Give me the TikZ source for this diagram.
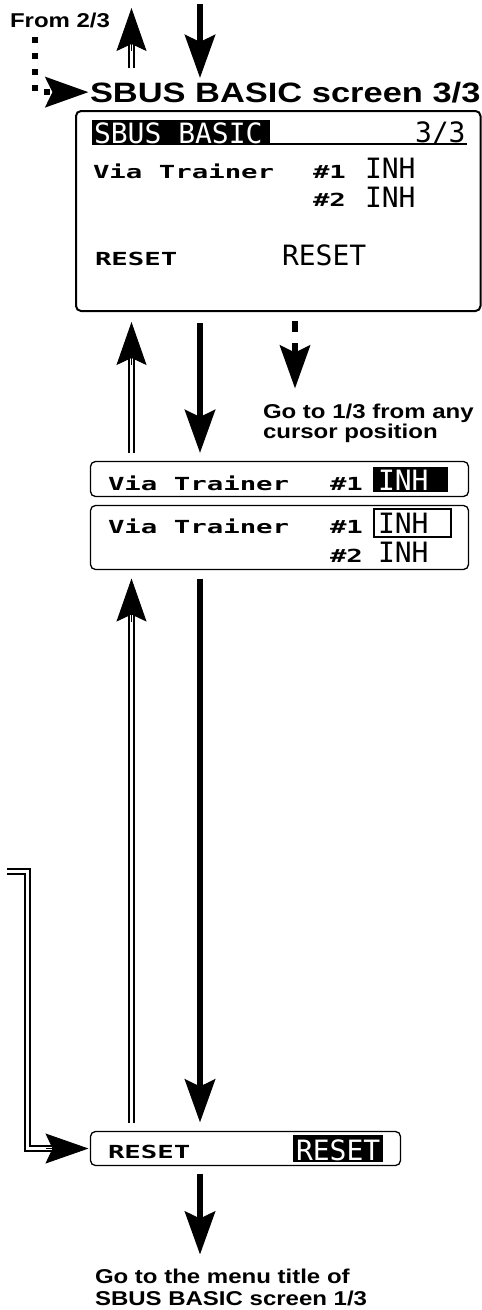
\documentclass[tikz,border=0pt]{standalone}
\usepackage{fontspec}
\usepackage{graphicx}
\setmainfont{Liberation Sans}
\newfontfamily\lcdfont{DejaVu Sans Mono}
\usetikzlibrary{arrows.meta,calc}
\newcommand\lcds[1]{{\lcdfont\bfseries\fontsize{18}{18}\selectfont\scalebox{1.52}[1]{#1}}}
\newcommand\lcdl[1]{{\lcdfont\fontsize{28}{28}\selectfont #1}}
\newcommand\lbl[3]{{\bfseries\fontsize{#1}{#1}\selectfont\scalebox{#2}[1]{#3}}}
\newcommand\dblarrow[2]{\draw[dblline, shorten >=32pt] (#1) -- (#2); \draw[headonly] ($(#2)!43pt!(#1)$) -- (#2);}
\begin{document}
\begin{tikzpicture}[x=1pt,y=-1pt,
  >={Stealth[length=43pt,width=30pt,inset=7pt]},
  txt/.style={inner sep=0pt, outer sep=0pt, anchor=base west},
  scr/.style={draw, line width=2pt, rounded corners=5pt, inner sep=0pt, outer sep=0pt, anchor=north west},
  rowbox/.style={draw, line width=1.3pt, rounded corners=5pt, inner sep=0pt, outer sep=0pt, anchor=north west},
  hl/.style={fill=black, inner sep=0pt, outer sep=0pt, anchor=north west},
  bigarr/.style={->, line width=6.5pt},
  dblline/.style={double, line width=1.6pt, double distance=3pt},
  headonly/.style={->, line width=1pt},
  dashedarr/.style={->, line width=6pt, dash pattern=on 11pt off 11pt},
  dotarr/.style={->, line width=6pt, dash pattern=on 6pt off 10pt}]
\useasboundingbox (0,0) rectangle (482,1310);
% columns
\coordinate (colA) at (131.5,0);
\coordinate (colB) at (200,0);
\coordinate (colC) at (295,0);
% top labels
\node[txt] (from) at (10,27) {\lbl{20}{1.2}{From 2/3}};
\node[txt] (title) at (90,102) {\lbl{28}{1.23}{SBUS BASIC screen 3/3}};
% main screen
\node[scr, minimum width=404.5pt, minimum height=200pt] (main) at (76,111) {};
\node[hl, minimum width=178pt, minimum height=25pt] (bar) at (92,120) {};
\node[txt, text=white] (bartxt) at (94,143) {\lcdl{SBUS BASIC}};
\draw[line width=2pt] (bar.south east) ++(0,-1) -- ++(197,0) coordinate (ulend);
\node[txt] (pg) at (415,142) {\lcdl{3/3}};
\node[txt] (m1) at (93,178) {\lcds{Via Trainer}};
\node[txt] (m2) at (313,178) {\lcds{\#1}};
\node[txt] (m3) at (365,178) {\lcdl{INH}};
\node[txt] (m4) at (313,206) {\lcds{\#2}};
\node[txt] (m5) at (365,207) {\lcdl{INH}};
\node[txt] (m6) at (95,265) {\lcds{RESET}};
\node[txt] (m7) at (282,265) {\lcdl{RESET}};
% row 1
\node[rowbox, minimum width=378pt, minimum height=35pt] (row1) at (90.5,461.5) {};
\node[txt] (r1a) at (108,490) {\lcds{Via Trainer}};
\node[txt] (r1b) at (330,490) {\lcds{\#1}};
\node[hl, minimum width=75pt, minimum height=25pt] (r1hl) at (373,467) {};
\node[txt, text=white] (r1c) at (378,490) {\lcdl{INH}};
% row 2
\node[rowbox, minimum width=378pt, minimum height=64pt] (row2) at (90.5,505.5) {};
\node[txt] (r2a) at (108,533) {\lcds{Via Trainer}};
\node[txt] (r2b) at (330,533) {\lcds{\#1}};
\node[draw, line width=2pt, inner sep=0pt, outer sep=0pt, anchor=north west, minimum width=77pt, minimum height=28pt] (r2box) at (374,509) {};
\node[txt] (r2c) at (378,533) {\lcdl{INH}};
\node[txt] (r2d) at (330,562) {\lcds{\#2}};
\node[txt] (r2e) at (378,562) {\lcdl{INH}};
% reset row
\node[rowbox, minimum width=310pt, minimum height=34pt] (reset) at (90.5,1131.5) {};
\node[txt] (rsa) at (108,1158) {\lcds{RESET}};
\node[hl, minimum width=90pt, minimum height=27pt] (rshl) at (293,1135) {};
\node[txt, text=white] (rsb) at (296,1160) {\lcdl{RESET}};
% side labels
\node[txt] (goto1) at (263,418) {\bfseries\fontsize{20}{20}\selectfont\scalebox{1.2}[1]{\begin{tabular}[t]{@{}l@{}}Go to 1/3 from any\\cursor position\end{tabular}}};
\node[txt] (goto2) at (95,1283) {\bfseries\fontsize{20}{22}\selectfont\scalebox{1.2}[1]{\begin{tabular}[t]{@{}l@{}}Go to the menu title of\\SBUS BASIC screen 1/3\end{tabular}}};
% top arrows
\coordinate (tua) at (131.5,68);
\coordinate (tub) at (131.5,8);
\dblarrow{tua}{tub}
\coordinate (tda) at (200,4);
\coordinate (tdb) at (200,78);
\draw[bigarr] (tda) -- (tdb);
\coordinate (dots) at (35,37);
\draw[dotarr, shorten >=1.5pt] (dots) |- (title.west);
% main <-> row1
\draw[bigarr] ($(main.south -| colB)+(0,12)$) -- ($(row1.north -| colB)+(0,-8.5)$);
\coordinate (u1a) at ($(row1.north -| colA)+(0,-8.5)$);
\coordinate (u1b) at ($(main.south -| colA)+(0,11)$);
\dblarrow{u1a}{u1b}
\draw[dashedarr] ($(main.south -| colC)+(0,10)$) -- ($(goto1.north -| colC)+(0,-15)$);
% row2 <-> reset
\draw[bigarr] ($(row2.south -| colB)+(0,9)$) -- ($(reset.north -| colB)+(0,-9)$);
\coordinate (u2a) at ($(reset.north -| colA)+(0,-9)$);
\coordinate (u2b) at ($(row2.south -| colA)+(0,9)$);
\dblarrow{u2a}{u2b}
% left return line
\coordinate (lstart) at (7,871.5);
\coordinate (lcorner) at (27.5,871.5);
\coordinate (ltip) at ($(reset.west)+(-2,0)$);
\draw[dblline, shorten >=32pt] (lstart) -- (lcorner) -- (lcorner |- reset.west) -- (ltip);
\draw[headonly] ($(ltip)+(-43,0)$) -- (ltip);
% reset -> bottom
\draw[bigarr] ($(reset.south -| colB)+(0,8)$) -- ($(goto2.north -| colB)+(0,-13)$);
\end{tikzpicture}
\end{document}
